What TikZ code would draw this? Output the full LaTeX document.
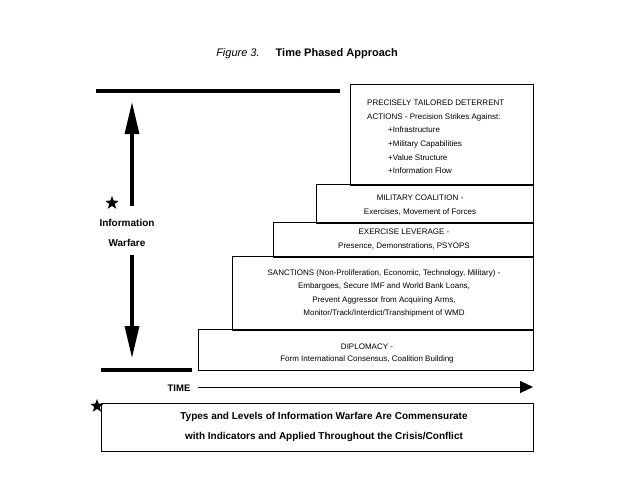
\documentclass[tikz,border=0pt]{standalone}
\usepackage{fontspec}
\setmainfont{Liberation Sans}
\usetikzlibrary{arrows.meta,shapes.geometric}
\begin{document}
\begin{tikzpicture}[x=1pt,y=-1pt,
  box/.style={draw, line width=0.8pt, inner sep=0pt, anchor=north west},
  base/.style={line width=1.8pt},
  txt/.style={font=\fontsize{8}{13.6}\selectfont, align=center, inner sep=0pt},
  bar/.style={line width=4.5pt},
  bigarrow/.style={line width=3.3pt, -{Triangle[length=32pt,width=14pt]}},
  timearrow/.style={line width=0.9pt, -{Triangle[length=13pt,width=12pt]}},
  starmark/.style={star, star points=5, star point ratio=2.4, fill=black, inner sep=0pt, minimum size=14pt},
  bold/.style={font=\fontsize{10}{20}\selectfont\bfseries, align=center, inner sep=0pt}]
\useasboundingbox (0,0) rectangle (640,479);

% title
\node[inner sep=0pt, font=\fontsize{11}{13}\selectfont] (title) at (307,54)
  {{\itshape Figure 3.}\hspace{16pt}{\bfseries Time Phased Approach}};

% boxes
\node[box, minimum width=183pt, minimum height=100pt] (b1) at (350,84) {};
\node[box, minimum width=217pt, minimum height=38pt] (b2) at (316,184) {};
\node[box, minimum width=260pt, minimum height=34pt] (b3) at (273,222) {};
\node[box, minimum width=301pt, minimum height=73pt] (b4) at (232,256) {};
\node[box, minimum width=335pt, minimum height=41pt] (b5) at (198,329) {};
\node[box, minimum width=432pt, minimum height=48pt] (b6) at (101,403) {};
\draw[base] (b1.south west) -- (b1.south east);
\draw[base] (b2.south west) -- (b2.south east);
\draw[base] (b3.south west) -- (b3.south east);
\draw[base] (b4.south west) -- (b4.south east);
\draw[line width=1.2pt] (b5.south west) -- (b5.south east);

% box texts
\node[txt, align=left, anchor=west] (t1) at (367,137)
  {PRECISELY TAILORED DETERRENT\\
   ACTIONS - Precision Strikes Against:\\
   \hspace{21pt}+Infrastructure\\
   \hspace{21pt}+Military Capabilities\\
   \hspace{21pt}+Value Structure\\
   \hspace{21pt}+Information Flow};
\node[txt] (t2) at (420,205) {MILITARY COALITION -\\Exercises, Movement of Forces};
\node[txt] (t3) at (404,239.5) {EXERCISE LEVERAGE -\\Presence, Demonstrations, PSYOPS};
\node[txt] (t4) at (384,293.5) {SANCTIONS (Non-Proliferation, Economic, Technology, Military) -\\
  Embargoes, Secure IMF and World Bank Loans,\\
  Prevent Aggressor from Acquiring Arms,\\
  Monitor/Track/Interdict/Transhipment of WMD};
\node[txt, font=\fontsize{8}{12}\selectfont] (t5) at (367,354) {DIPLOMACY -\\Form International Consensus, Coalition Building};
\node[bold] (t6) at (324,427) {Types and Levels of Information Warfare Are Commensurate\\
  with Indicators and Applied Throughout the Crisis/Conflict};

% bars
\coordinate (tb1) at (96,91);
\coordinate (tb2) at (340,91);
\coordinate (bb1) at (101,370);
\coordinate (bb2) at (192,370);
\draw[bar] (tb1) -- (tb2);
\draw[bar] (bb1) -- (bb2);

% information warfare arrows
\coordinate (ua1) at (132,206);
\coordinate (ua2) at (132,102);
\coordinate (da1) at (132,255);
\coordinate (da2) at (132,358);
\draw[bigarrow] (ua1) -- (ua2);
\draw[bigarrow] (da1) -- (da2);
\node[bold] (iw) at (127,233) {Information\\Warfare};
\node[starmark] (s1) at (112,203) {};
\node[starmark] (s2) at (97,406) {};

% time
\node[bold, font=\fontsize{9.5}{12}\selectfont\bfseries] (time) at (179,388) {TIME};
\coordinate (ta1) at (198,387);
\coordinate (ta2) at (533,387);
\draw[timearrow] (ta1) -- (ta2);
\end{tikzpicture}
\end{document}
